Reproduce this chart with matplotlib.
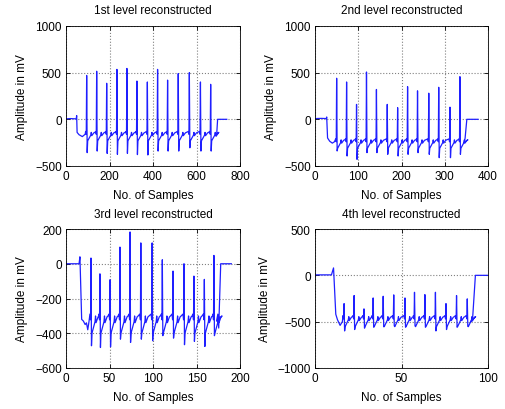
import numpy as np
import matplotlib.pyplot as plt

plt.rcParams['font.family'] = ['Liberation Sans', 'DejaVu Sans']
plt.rcParams['font.size'] = 8.5

# 1st level: R-peak positions, peak and trough amplitudes (mV)
l1_r = [95, 141, 187, 234, 280, 326, 374, 421, 467, 516, 567, 618, 665]
l1_peak = [470, 515, 386, 535, 545, 410, 400, 535, 420, 490, 500, 400, 375]
l1_trough = [-357, -340, -365, -375, -365, -378, -382, -340, -340, -340, -305, -340, -340]
l1_head_x = [0, 20, 47, 49, 51, 60, 75, 88]
l1_head_y = [5, 8, 5, 40, -140, -165, -185, -160]
l1_tail_x = [690, 693, 697, 739]
l1_tail_y = [-180, -150, 0, 0]

# 2nd level
l2_r = [50, 73, 96, 119, 142, 167, 191, 214, 237, 263, 286, 312, 335]
l2_peak = [440, 400, 160, 507, 320, 160, 125, 350, 305, 280, 343, 130, 457]
l2_trough = [-339, -393, -429, -357, -357, -375, -393, -375, -357, -375, -411, -411, -375]
l2_head_x = [0, 15, 26, 27, 29, 34, 40, 45]
l2_head_y = [8, 10, 8, 25, -200, -235, -255, -240]
l2_tail_x = [345, 347, 351, 377]
l2_tail_y = [-250, -200, 0, 0]

# 3rd level
l3_r = [28.7, 39, 50.6, 62, 73.6, 86, 99, 110.7, 123, 135.6, 147, 159, 170]
l3_peak = [33, -58, -92, 96, 183, 120, 120, 23, -42, 0, -71, -90, 48]
l3_trough = [-472, -482, -478, -434, -453, -434, -443, -414, -428, -466, -447, -476, -414]
l3_head_x = [0, 15, 16, 18, 20, 22, 23.5, 25, 26.5]
l3_head_y = [0, 0, 40, -320, -330, -350, -340, -380, -330]
l3_tail_x = [173, 174.5, 175.5, 177.8, 190]
l3_tail_y = [-330, -290, -370, 0, 0]

# 4th level
l4_r = [16.8, 22.6, 28.3, 33.6, 39.4, 45.5, 52, 57.5, 63.5, 69.6, 75.7, 81.8, 88]
l4_peak = [-305, -218, -362, -244, -226, -211, -244, -183, -208, -183, -305, -218, -254]
l4_trough = [-600, -585, -570, -560, -555, -545, -560, -545, -560, -600, -585, -560, -550]
l4_head_x = [0, 9.5, 10.7, 12, 13, 14.5, 15.8]
l4_head_y = [5, 5, 80, -420, -480, -540, -500]
l4_tail_x = [90, 91, 92.7, 100]
l4_tail_y = [-500, -490, 0, 0]

# beat shape: offset (fraction of RR interval), level relative to base in units of T amplitude
shape_off = [-0.10, -0.04, 0.0, 0.05, 0.10, 0.20, 0.30, 0.40, 0.45, 0.50, 0.60, 0.70, 0.80]
shape_lvl = [1.1, 0.5, None, None, -0.9, -0.5, -0.1, 0.3, 0.9, 0.2, 0.5, 0.8, 0.9]


def trace(r, peak, trough, base, tamp, hx, hy, tx, ty):
    d = np.median(np.diff(r))
    xs, ys = list(hx), list(hy)
    for xr, p, t in zip(r, peak, trough):
        for k in range(len(shape_off)):
            xs.append(xr + shape_off[k] * d)
            if k == 2:
                ys.append(p)
            elif k == 3:
                ys.append(t)
            else:
                ys.append(base + shape_lvl[k] * tamp)
    xs += tx
    ys += ty
    return xs, ys


panels = [
    ("1st level reconstructed", trace(l1_r, l1_peak, l1_trough, -185, 50, l1_head_x, l1_head_y, l1_tail_x, l1_tail_y),
     (0, 800), np.arange(0, 801, 200), (-500, 1000), [-500, 0, 500, 1000]),
    ("2nd level reconstructed", trace(l2_r, l2_peak, l2_trough, -265, 50, l2_head_x, l2_head_y, l2_tail_x, l2_tail_y),
     (0, 400), np.arange(0, 401, 100), (-500, 1000), [-500, 0, 500, 1000]),
    ("3rd level reconstructed", trace(l3_r, l3_peak, l3_trough, -350, 55, l3_head_x, l3_head_y, l3_tail_x, l3_tail_y),
     (0, 200), np.arange(0, 201, 50), (-600, 200), np.arange(-600, 201, 200)),
    ("4th level reconstructed", trace(l4_r, l4_peak, l4_trough, -500, 60, l4_head_x, l4_head_y, l4_tail_x, l4_tail_y),
     (0, 100), [0, 50, 100], (-1000, 500), [-1000, -500, 0, 500]),
]

boxes = [
    [0.1307, 0.5927, 0.3446, 0.3415],
    [0.6238, 0.5927, 0.3426, 0.3415],
    [0.1307, 0.1000, 0.3446, 0.3390],
    [0.6238, 0.1000, 0.3426, 0.3390],
]

fig = plt.figure(figsize=(5.05, 4.10), dpi=100)
for (title, (xs, ys), xl, xt, yl, yt), box in zip(panels, boxes):
    ax = fig.add_axes(box)
    ax.plot(xs, ys, color='#1f1fff', lw=0.9)
    ax.set_xlim(xl)
    ax.set_ylim(yl)
    ax.set_xticks(xt)
    ax.set_yticks(yt)
    ax.grid(True, color='#808080', linestyle=':', linewidth=0.8)
    ax.tick_params(direction='in', length=3, top=True, right=True, width=0.6, pad=3)
    for s in ax.spines.values():
        s.set_linewidth(0.6)
    ax.set_title(title, fontsize=8.5, pad=9)
    ax.set_xlabel("No. of Samples", labelpad=5)
    ax.set_ylabel("Amplitude in mV", labelpad=5)

fig.savefig("out.png", dpi=100)
